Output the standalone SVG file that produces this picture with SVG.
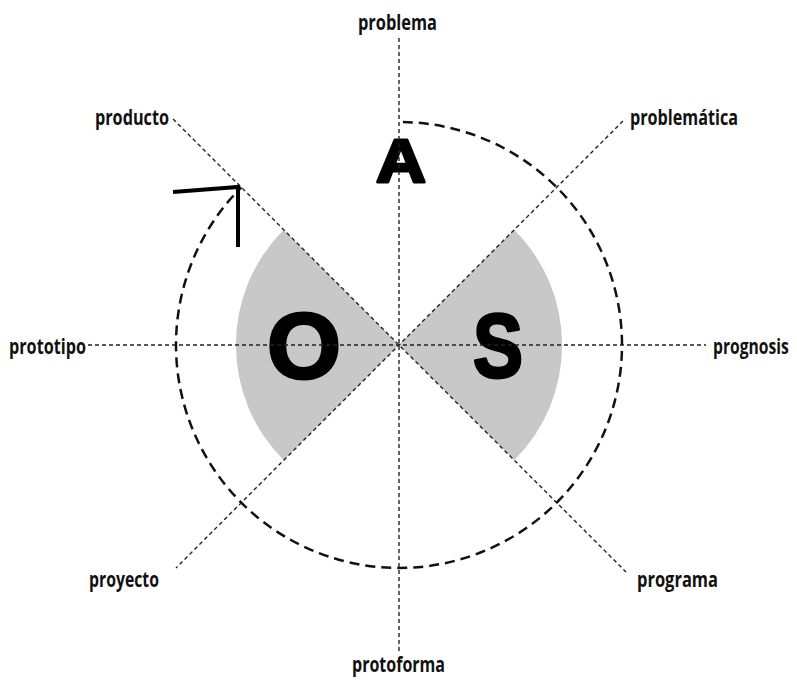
<svg xmlns="http://www.w3.org/2000/svg" width="797" height="680" viewBox="0 0 797 680">
<style>
.lbl{font-family:"Open Sans","DejaVu Sans Condensed","Liberation Sans",sans-serif;font-weight:700;font-size:22px;fill:#111}
.big{font-family:"Liberation Sans","DejaVu Sans",sans-serif;font-weight:bold;fill:#000;stroke:#000;stroke-width:3;stroke-linejoin:round;text-anchor:middle}
.axis{stroke:#222;stroke-width:1.4;stroke-dasharray:4 3;fill:none}
.sector{fill:#c8c8c8;stroke:none}
</style>
<rect width="797" height="680" fill="#fff"/>
<g id="sectors">
<path class="sector" d="M399,345 L283.7,229.7 A163,163 0 0 0 283.7,460.3 Z"/>
<path class="sector" d="M399,345 L514.3,229.7 A163,163 0 0 1 514.3,460.3 Z"/>
</g>
<g id="letter-A"><text class="big" x="401" y="182" font-size="62" textLength="50" lengthAdjust="spacingAndGlyphs">A</text></g>
<g id="letter-O"><text class="big" x="304" y="378" font-size="92" textLength="74" lengthAdjust="spacingAndGlyphs">O</text></g>
<g id="letter-S"><text class="big" x="498" y="377" font-size="90" textLength="50" lengthAdjust="spacingAndGlyphs">S</text></g>
<g id="connectors">
<line class="axis" x1="399" y1="38" x2="399" y2="652"/>
<line class="axis" x1="88" y1="345" x2="706" y2="345"/>
<line class="axis" x1="173" y1="119" x2="626" y2="572"/>
<line class="axis" x1="623" y1="121" x2="176" y2="568"/>
<path d="M402.9,122 A223,223 0 1 1 241.3,187.3" fill="none" stroke="#111" stroke-width="2.5" stroke-dasharray="10 6"/>
<polyline points="173,192 238,187 238,247" fill="none" stroke="#000" stroke-width="4"/>
</g>
<g id="label-problema"><text class="lbl" x="358" y="30" textLength="79" lengthAdjust="spacingAndGlyphs">problema</text></g>
<g id="label-producto"><text class="lbl" x="95" y="125" textLength="74" lengthAdjust="spacingAndGlyphs">producto</text></g>
<g id="label-problematica"><text class="lbl" x="630" y="125" textLength="108" lengthAdjust="spacingAndGlyphs">problemática</text></g>
<g id="label-prototipo"><text class="lbl" x="9" y="354" textLength="77" lengthAdjust="spacingAndGlyphs">prototipo</text></g>
<g id="label-prognosis"><text class="lbl" transform="translate(713,354) scale(0.75,1)" x="0" y="0" textLength="101" lengthAdjust="spacingAndGlyphs">prognosis</text></g>
<g id="label-proyecto"><text class="lbl" x="89" y="587" textLength="70" lengthAdjust="spacingAndGlyphs">proyecto</text></g>
<g id="label-programa"><text class="lbl" x="637" y="587" textLength="81" lengthAdjust="spacingAndGlyphs">programa</text></g>
<g id="label-protoforma"><text class="lbl" x="352" y="672" textLength="93" lengthAdjust="spacingAndGlyphs">protoforma</text></g>
</svg>
